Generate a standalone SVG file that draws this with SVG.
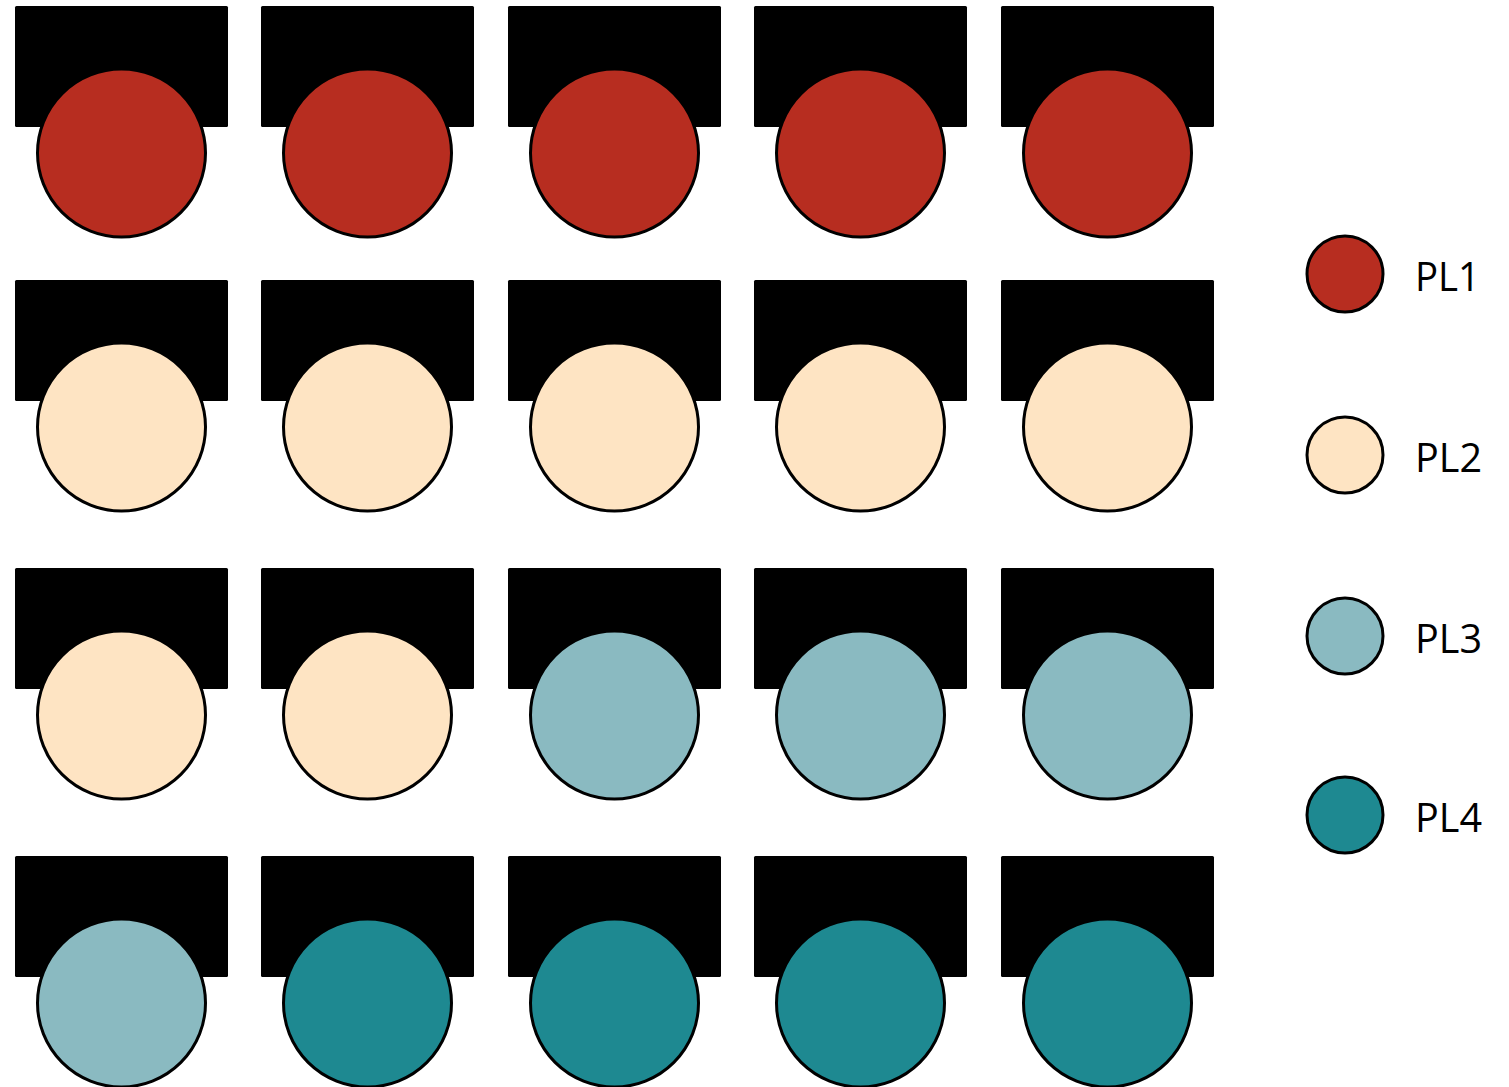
<svg xmlns="http://www.w3.org/2000/svg" width="1509" height="1087" viewBox="0 0 1509 1087">
<style>
.blk{fill:#000;}
.c{stroke:#000;stroke-width:3;}
.pl1{fill:#B72D20;}
.pl2{fill:#FEE4C3;}
.pl3{fill:#8ABAC1;}
.pl4{fill:#1E8991;}
.lbl{font-family:"Open Sans","Liberation Sans",sans-serif;font-size:40px;fill:#000;}
</style>
<defs>
<g id="seat"><rect class="blk" x="-106.5" y="-147" width="213" height="121" rx="1.5"/></g>
</defs>
<g id="nodes">
<g id="r1c1"><use href="#seat" x="121.5" y="153"/><circle class="c pl1" cx="121.5" cy="153" r="84"/></g>
<g id="r1c2"><use href="#seat" x="367.5" y="153"/><circle class="c pl1" cx="367.5" cy="153" r="84"/></g>
<g id="r1c3"><use href="#seat" x="614.5" y="153"/><circle class="c pl1" cx="614.5" cy="153" r="84"/></g>
<g id="r1c4"><use href="#seat" x="860.5" y="153"/><circle class="c pl1" cx="860.5" cy="153" r="84"/></g>
<g id="r1c5"><use href="#seat" x="1107.5" y="153"/><circle class="c pl1" cx="1107.5" cy="153" r="84"/></g>

<g id="r2c1"><use href="#seat" x="121.5" y="427"/><circle class="c pl2" cx="121.5" cy="427" r="84"/></g>
<g id="r2c2"><use href="#seat" x="367.5" y="427"/><circle class="c pl2" cx="367.5" cy="427" r="84"/></g>
<g id="r2c3"><use href="#seat" x="614.5" y="427"/><circle class="c pl2" cx="614.5" cy="427" r="84"/></g>
<g id="r2c4"><use href="#seat" x="860.5" y="427"/><circle class="c pl2" cx="860.5" cy="427" r="84"/></g>
<g id="r2c5"><use href="#seat" x="1107.5" y="427"/><circle class="c pl2" cx="1107.5" cy="427" r="84"/></g>

<g id="r3c1"><use href="#seat" x="121.5" y="715"/><circle class="c pl2" cx="121.5" cy="715" r="84"/></g>
<g id="r3c2"><use href="#seat" x="367.5" y="715"/><circle class="c pl2" cx="367.5" cy="715" r="84"/></g>
<g id="r3c3"><use href="#seat" x="614.5" y="715"/><circle class="c pl3" cx="614.5" cy="715" r="84"/></g>
<g id="r3c4"><use href="#seat" x="860.5" y="715"/><circle class="c pl3" cx="860.5" cy="715" r="84"/></g>
<g id="r3c5"><use href="#seat" x="1107.5" y="715"/><circle class="c pl3" cx="1107.5" cy="715" r="84"/></g>

<g id="r4c1"><use href="#seat" x="121.5" y="1003"/><circle class="c pl3" cx="121.5" cy="1003" r="84"/></g>
<g id="r4c2"><use href="#seat" x="367.5" y="1003"/><circle class="c pl4" cx="367.5" cy="1003" r="84"/></g>
<g id="r4c3"><use href="#seat" x="614.5" y="1003"/><circle class="c pl4" cx="614.5" cy="1003" r="84"/></g>
<g id="r4c4"><use href="#seat" x="860.5" y="1003"/><circle class="c pl4" cx="860.5" cy="1003" r="84"/></g>
<g id="r4c5"><use href="#seat" x="1107.5" y="1003"/><circle class="c pl4" cx="1107.5" cy="1003" r="84"/></g>
</g>
<g id="legend">
<g id="leg1"><circle class="c pl1" cx="1345" cy="274" r="38"/><text class="lbl" x="1415" y="291" textLength="65" lengthAdjust="spacingAndGlyphs">PL1</text></g>
<g id="leg2"><circle class="c pl2" cx="1345" cy="455" r="38"/><text class="lbl" x="1415" y="472" textLength="67" lengthAdjust="spacingAndGlyphs">PL2</text></g>
<g id="leg3"><circle class="c pl3" cx="1345" cy="636" r="38"/><text class="lbl" x="1415" y="653" textLength="67" lengthAdjust="spacingAndGlyphs">PL3</text></g>
<g id="leg4"><circle class="c pl4" cx="1345" cy="815" r="38"/><text class="lbl" x="1415" y="832" textLength="67" lengthAdjust="spacingAndGlyphs">PL4</text></g>
</g>
<g id="connectors"/>
</svg>
